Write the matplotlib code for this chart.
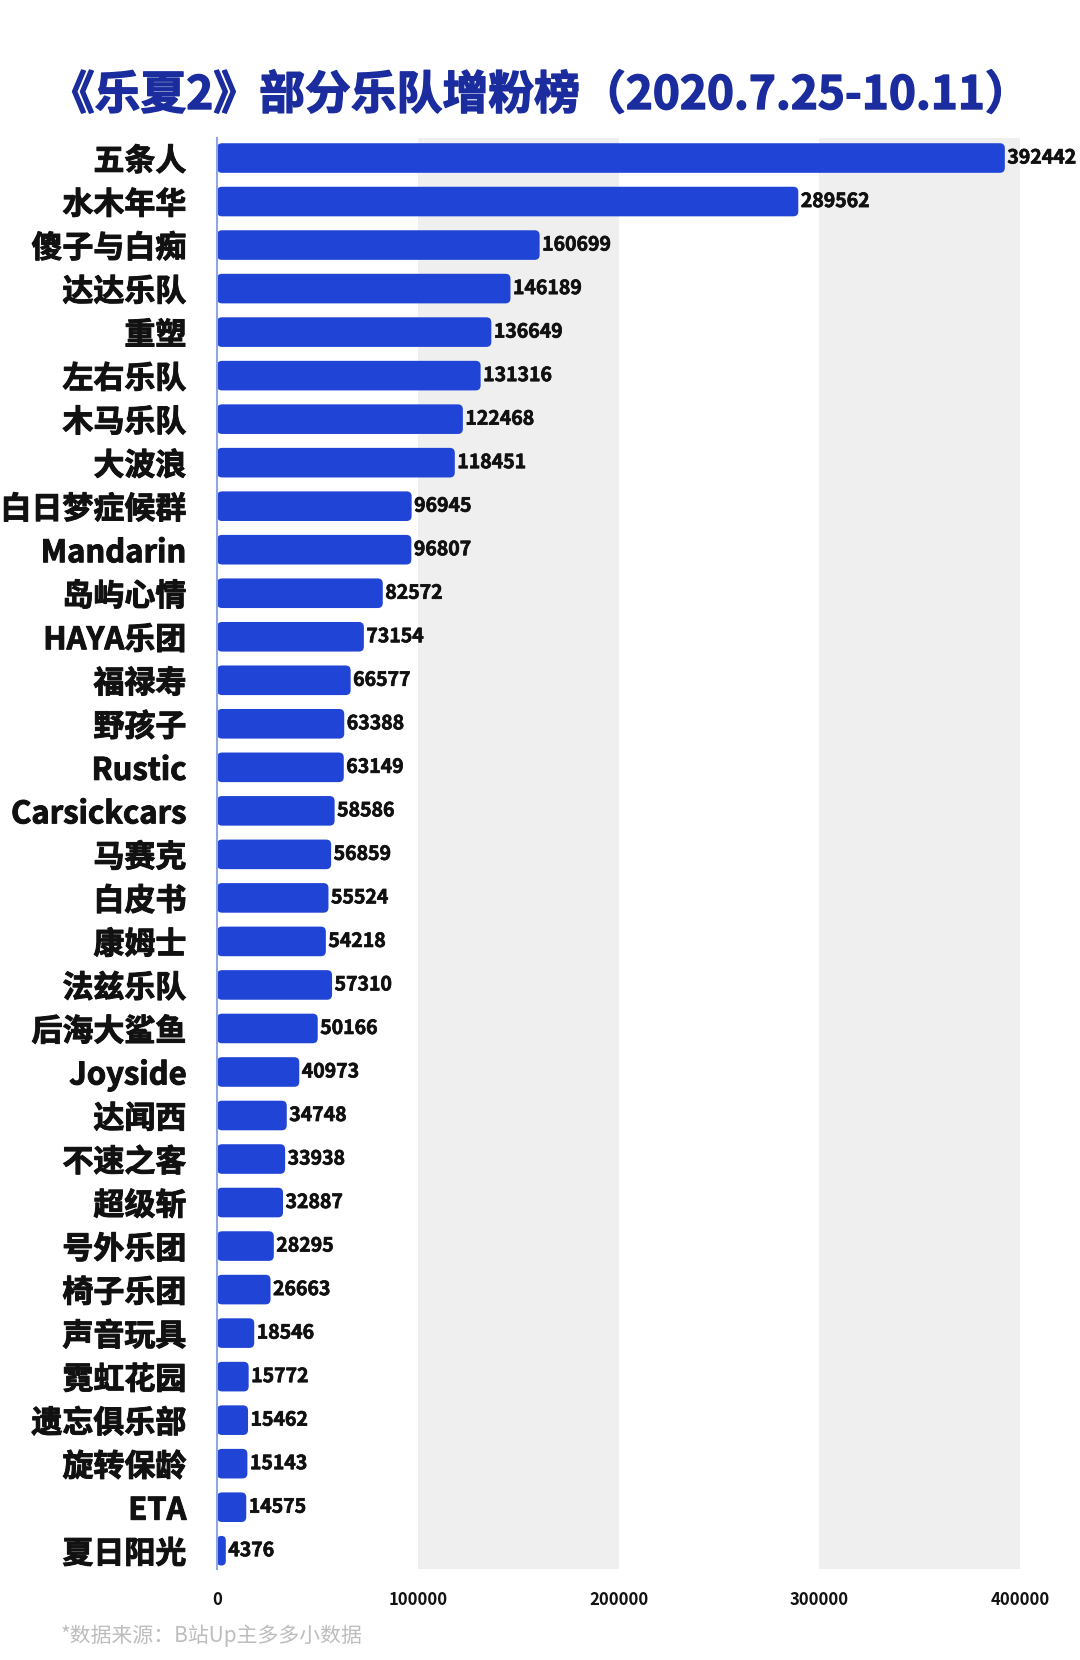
import matplotlib
matplotlib.use("Agg")
import matplotlib.pyplot as plt
import matplotlib.patheffects as pe
from matplotlib.patches import FancyBboxPatch

plt.rcParams['font.family'] = ['Noto Sans CJK SC', 'DejaVu Sans']

title = "《乐夏2》部分乐队增粉榜（2020.7.25-10.11）"
source = "*数据来源：B站Up主多多小数据"

bands = ["五条人", "水木年华", "傻子与白痴", "达达乐队", "重塑", "左右乐队", "木马乐队",
         "大波浪", "白日梦症候群", "Mandarin", "岛屿心情", "HAYA乐团", "福禄寿", "野孩子",
         "Rustic", "Carsickcars", "马赛克", "白皮书", "康姆士", "法兹乐队", "后海大鲨鱼",
         "Joyside", "达闻西", "不速之客", "超级斩", "号外乐团", "椅子乐团", "声音玩具",
         "霓虹花园", "遗忘俱乐部", "旋转保龄", "ETA", "夏日阳光"]
fans = [392442, 289562, 160699, 146189, 136649, 131316, 122468,
        118451, 96945, 96807, 82572, 73154, 66577, 63388,
        63149, 58586, 56859, 55524, 54218, 57310, 50166,
        40973, 34748, 33938, 32887, 28295, 26663, 18546,
        15772, 15462, 15143, 14575, 4376]
xticks = [0, 100000, 200000, 300000, 400000]
shaded = [(100000, 200000), (300000, 400000)]

BAR = '#1f44d6'
TITLE_C = '#1b2d9e'

W, H = 1080, 1660
fig = plt.figure(figsize=(W / 100, H / 100), dpi=100)
fig.patch.set_facecolor('white')

ax_l, ax_r, ax_t, ax_b = 217, 1020, 138, 1569
ax = fig.add_axes([ax_l / W, 1 - ax_b / H, (ax_r - ax_l) / W, (ax_b - ax_t) / H])

n = len(bands)
ypos = list(range(n))
ax.set_xlim(0, 400000)
ax.set_ylim(n - 1 + 0.42, -0.46)

for a, b in shaded:
    ax.axvspan(a, b, color='#efefef', zorder=0, lw=0)

bars = ax.barh(ypos, fans, height=0.68, color=BAR, zorder=2)

# rounded bar corners
px_x = 400000 / (ax_r - ax_l)
px_y = (n - 1 + 0.88) / (ax_b - ax_t)
aspect = px_y / px_x
for rect in bars:
    x0, y0 = rect.get_x(), rect.get_y()
    w, h = rect.get_width(), rect.get_height()
    r = min(5 * px_x, w / 2)
    p = FancyBboxPatch((x0, y0), w, h,
                       boxstyle=f"round,pad=0,rounding_size={r}",
                       mutation_aspect=aspect, fc=BAR, ec='none', zorder=2)
    ax.add_patch(p)
    rect.set_visible(False)

heavy = [pe.withStroke(linewidth=0.7, foreground='#111111')]
for y, v in zip(ypos, fans):
    ax.text(v + 2.5 * px_x, y, f"{v}", ha='left', va='center',
            fontsize=14, fontweight='bold', color='#111111', zorder=3, clip_on=False,
            path_effects=[pe.withStroke(linewidth=0.5, foreground='#111111')])

ax.set_yticks(ypos)
ax.set_yticklabels(bands, fontsize=22.3, fontweight='bold', color='#111111')
for lab in ax.get_yticklabels():
    lab.set_path_effects(heavy)
ax.tick_params(axis='y', length=0, pad=22)
ax.set_xticks(xticks)
ax.set_xticklabels([str(t) for t in xticks], fontsize=12, fontweight='bold', color='#111111')
ax.tick_params(axis='x', length=0, pad=16)

for s in ['top', 'right', 'bottom']:
    ax.spines[s].set_visible(False)
ax.spines['left'].set_color('#8fa6e0')
ax.spines['left'].set_linewidth(1.5)
ax.set_facecolor('white')

fig.text(540 / W, 1 - 96 / H, title, ha='center', va='center',
         fontsize=33, fontweight='bold', color=TITLE_C,
         path_effects=[pe.withStroke(linewidth=1.0, foreground=TITLE_C)])
fig.text(61 / W, 1 - 1636 / H, source, ha='left', va='center',
         fontsize=15, color='#bdbdbd')

fig.savefig('out.png', dpi=100, facecolor='white')
